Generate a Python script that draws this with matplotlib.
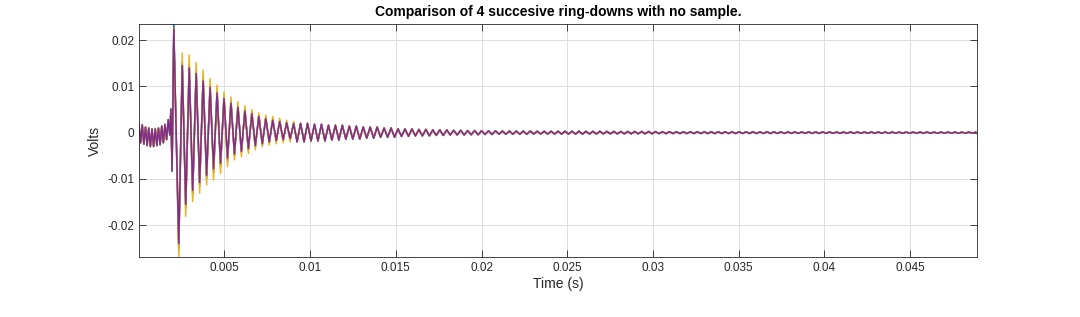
import numpy as np
import matplotlib
matplotlib.use('Agg')
import matplotlib.pyplot as plt

# axis limits (tight axis)
t_lim = [0.00002, 0.0489]
v_lim = [-0.0269, 0.0235]

# small drive signal before the excitation switches off (alternating extrema, V)
pre_peaks = [0.0018, -0.0022, 0.0017, -0.0025, 0.0012, -0.0028, 0.0010, -0.0030,
             0.0008, -0.0030, 0.0008, -0.0028, 0.0010, -0.0026, 0.0014, -0.0022,
             0.0018, -0.0015, 0.0028, -0.0005]
t_pre_end = 0.00182

# switch-off transient: times and values for each run
onset_t = [0.00188, 0.00195, 0.00205, 0.00213]
onset_v = {
    'run1': [0.0052, -0.0084, 0.0234, 0.0095],
    'run2': [0.0050, -0.0080, 0.0226, 0.0093],
    'run3': [0.0048, -0.0078, 0.0216, 0.0092],
    'run4': [0.0050, -0.0082, 0.0222, 0.0092],
}

# ring-down extrema (first 17 cycles), negative then positive peak of each cycle
t_ring0 = 0.00234
half_period = 0.000203
neg_peaks = {
    'run1': [-0.0252, -0.0165, -0.0134, -0.0116, -0.0100, -0.0087, -0.0074, -0.0062,
             -0.0050, -0.0044, -0.0038, -0.0031, -0.0026, -0.0022, -0.0019, -0.0017, -0.0015],
    'run2': [-0.0245, -0.0160, -0.0130, -0.0112, -0.0096, -0.0083, -0.0070, -0.0058,
             -0.0048, -0.0042, -0.0036, -0.0030, -0.0025, -0.0021, -0.0018, -0.0016, -0.0014],
    'run3': [-0.0268, -0.0181, -0.0149, -0.0131, -0.0113, -0.0102, -0.0088, -0.0073,
             -0.0059, -0.0052, -0.0045, -0.0037, -0.0030, -0.0027, -0.0024, -0.0022, -0.0020],
    'run4': [-0.0240, -0.0155, -0.0125, -0.0108, -0.0092, -0.0078, -0.0066, -0.0055,
             -0.0046, -0.0040, -0.0034, -0.0028, -0.0024, -0.0020, -0.0017, -0.0015, -0.0013],
}
pos_peaks = {
    'run1': [0.0152, 0.0148, 0.0135, 0.0119, 0.0104, 0.0091, 0.0079, 0.0068,
             0.0059, 0.0051, 0.0044, 0.0038, 0.0033, 0.0029, 0.0026, 0.0023, 0.0021],
    'run2': [0.0148, 0.0144, 0.0131, 0.0115, 0.0100, 0.0088, 0.0076, 0.0066,
             0.0057, 0.0049, 0.0042, 0.0036, 0.0031, 0.0028, 0.0025, 0.0022, 0.0020],
    'run3': [0.0172, 0.0168, 0.0152, 0.0135, 0.0117, 0.0103, 0.0088, 0.0077,
             0.0067, 0.0058, 0.0050, 0.0043, 0.0038, 0.0035, 0.0031, 0.0027, 0.0024],
    'run4': [0.0145, 0.0140, 0.0128, 0.0112, 0.0098, 0.0086, 0.0074, 0.0064,
             0.0055, 0.0047, 0.0041, 0.0035, 0.0030, 0.0027, 0.0024, 0.0021, 0.0019],
}

# tail amplitude (all runs overlap here), one value per ms starting at 9 ms
tail_t0 = 0.009
tail_amp = [0.0020, 0.0018, 0.0016, 0.0014, 0.0012, 0.0010, 0.0008, 0.0007, 0.0006, 0.0005,
            0.00045, 0.0004, 0.00035, 0.00035, 0.0003, 0.0003, 0.0003, 0.00028, 0.00026, 0.00025,
            0.00024, 0.00022, 0.0002, 0.0002, 0.0002, 0.00019, 0.00018, 0.00018, 0.00017, 0.00016,
            0.00016, 0.00015, 0.00015, 0.00014, 0.00014, 0.00013, 0.00012, 0.00012, 0.00011, 0.0001]

runs = ['run1', 'run2', 'run3', 'run4']
colors = {'run1': (0, 0.447, 0.741), 'run2': (0.85, 0.325, 0.098),
          'run3': (0.929, 0.694, 0.125), 'run4': (0.494, 0.184, 0.556)}


def build_run(name):
    t_pre = np.linspace(t_lim[0], t_pre_end, len(pre_peaks))
    ring = np.ravel(np.column_stack((neg_peaks[name], pos_peaks[name])))
    k = np.arange(len(ring))
    t_early = t_ring0 + half_period * k

    n_total = int((t_lim[1] - t_ring0) / half_period) + 1
    k_tail = np.arange(len(ring), n_total)
    t_tail = t_ring0 + half_period * k_tail
    idx = np.clip(((t_tail - tail_t0) / 0.001).astype(int), 0, len(tail_amp) - 1)
    sign = np.where(k_tail % 2 == 0, -1.0, 1.0)
    v_tail = sign * np.array(tail_amp)[idx]

    t = np.concatenate((t_pre, onset_t, t_early, t_tail))
    v = np.concatenate((pre_peaks, onset_v[name], ring, v_tail))
    return t, v


fig = plt.figure(figsize=(10.8, 3.17), dpi=100)
ax = fig.add_axes([139 / 1080, 1 - 257 / 317, (977 - 139) / 1080, (257 - 24) / 317])

for name in runs:
    t, v = build_run(name)
    ax.plot(t, v, color=colors[name], lw=1.1, solid_joinstyle='round')

ax.set_xlim(t_lim)
ax.set_ylim(v_lim)
ax.set_xticks([0.005, 0.01, 0.015, 0.02, 0.025, 0.03, 0.035, 0.04, 0.045])
ax.set_xticklabels(['0.005', '0.01', '0.015', '0.02', '0.025', '0.03', '0.035', '0.04', '0.045'])
ax.set_yticks([-0.02, -0.01, 0, 0.01, 0.02])
ax.set_yticklabels(['-0.02', '-0.01', '0', '0.01', '0.02'])
ax.grid(True, color='#dcdcdc', lw=0.7)
ax.set_axisbelow(True)
ax.tick_params(direction='in', top=True, right=True, length=5, width=0.6,
               labelsize=8.5, colors='#262626')
for s in ax.spines.values():
    s.set_color('#262626')
    s.set_linewidth(0.6)

ax.set_xlabel('Time (s)', fontsize=10, color='#262626', family='Liberation Sans', labelpad=2)
ax.set_ylabel('Volts', fontsize=10, color='#262626', family='Liberation Sans', labelpad=4)
ax.set_title('Comparison of 4 succesive ring-downs with no sample.', fontsize=10,
             fontweight='bold', family='Liberation Sans', pad=6)
for lab in ax.get_xticklabels() + ax.get_yticklabels():
    lab.set_family('Liberation Sans')

fig.savefig('out.png', dpi=100)
